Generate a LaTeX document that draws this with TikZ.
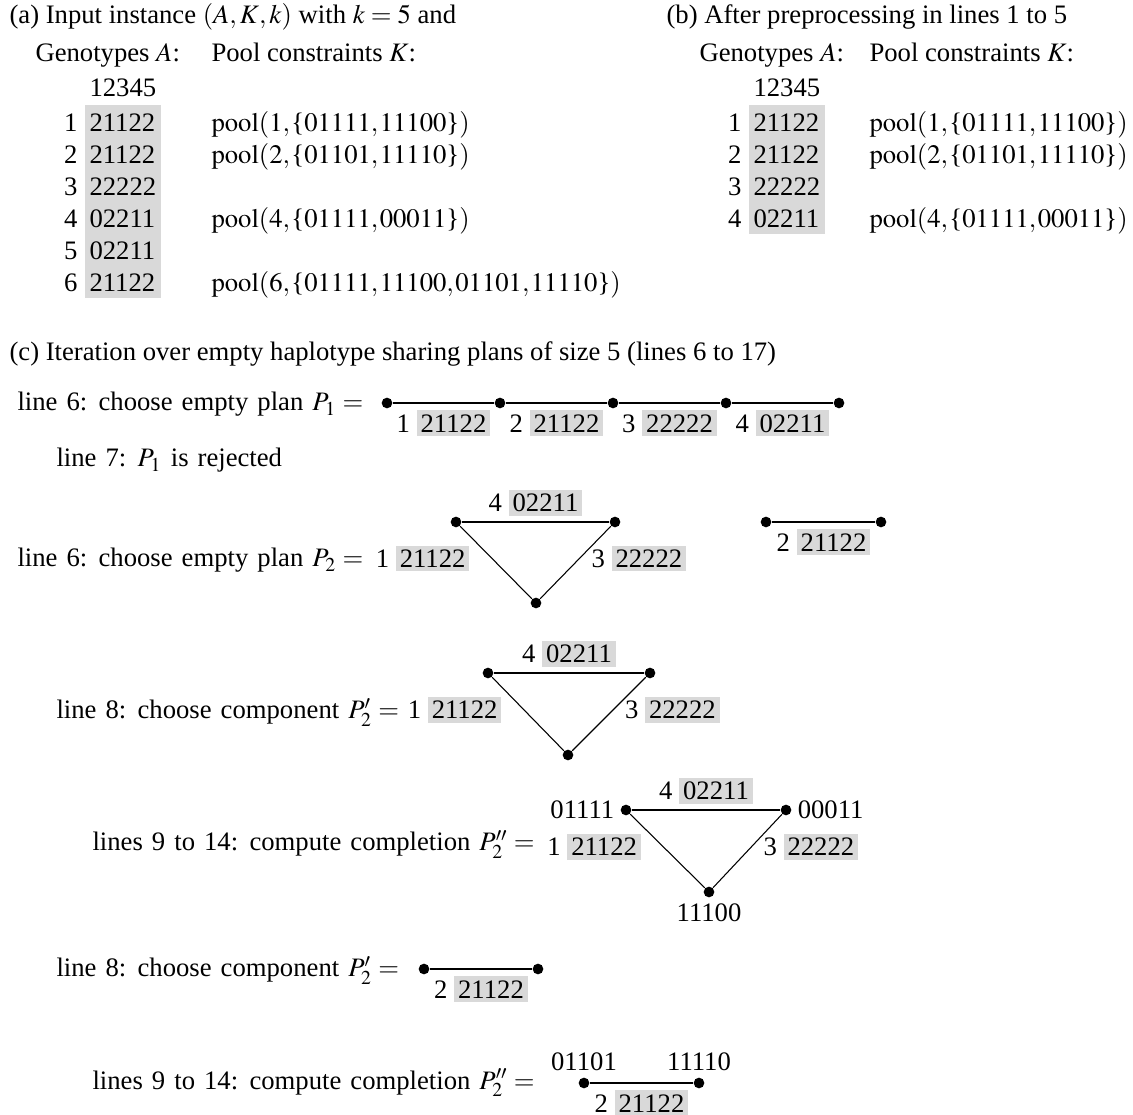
\documentclass[tikz,border=0pt]{standalone}
\usepackage{mathptmx}
\usepackage{fontspec}
\setmainfont{Liberation Serif}
\usepackage{tikz}

\definecolor{gtgray}{gray}{0.85}
\newcommand{\gbox}[1]{{\setlength{\fboxsep}{1.5pt}\colorbox{gtgray}{#1}}}
\newcommand{\geno}[2]{#1 \gbox{#2}}
\newcommand{\pool}[2]{$\mathrm{pool}(#1{,}\mkern1mu\mbox{\{}#2\mbox{\}})$}

\begin{document}
\begin{tikzpicture}[x=0.375pt,y=-0.375pt,label distance=-1.3pt,
  dot/.style={circle,fill,inner sep=0pt,minimum size=4pt},
  flat/.style={line width=0.6pt},
  txt/.style={anchor=base west,inner sep=0pt},
  stxt/.style={txt,font={\spaceskip=3.4pt plus 1pt\relax}},
  gbelow/.style={below=2.5pt,inner sep=0pt},
  gabove/.style={above=1.9pt,inner sep=0pt},
  gleft/.style={anchor=east,inner sep=0pt,xshift=-9.75pt,yshift=1.5pt},
  gright/.style={anchor=west,inner sep=0pt,xshift=5.8pt,yshift=1.5pt}]
  \useasboundingbox (0,0) rectangle (1133,1115);

  \node[txt] (ha) at (9,24) {(a) Input instance $(A,K,k)$ with $k=5$ and};
  \node[txt] (hb) at (666,24) {(b) After preprocessing in lines 1 to 5};
  \node[txt] (gta) at (35,62) {Genotypes $A$:};
  \node[txt] (pka) at (211,62) {Pool constraints $K$:};
  \node[txt] (gtb) at (699,62) {Genotypes $A$:};
  \node[txt] (pkb) at (869,62) {Pool constraints $K$:};

  \fill[gtgray] (85,105) rectangle (161,298);
  \fill[gtgray] (749,105) rectangle (825,234);
  \node[txt] (ca) at (89,97) {12345};
  \node[txt] (cb) at (753,97) {12345};
  \foreach \i/\g in {1/21122,2/21122,3/22222,4/02211,5/02211,6/21122}{
    \node[anchor=base east,inner sep=0pt] (na\i) at (78,{100+32*\i}) {\i};
    \node[txt] (ga\i) at (89,{100+32*\i}) {\g};
  }
  \foreach \i/\g in {1/21122,2/21122,3/22222,4/02211}{
    \node[anchor=base east,inner sep=0pt] (nb\i) at (742,{100+32*\i}) {\i};
    \node[txt] (gb\i) at (753,{100+32*\i}) {\g};
  }
  \node[txt] (ka1) at (211,132) {\pool{1}{01111{,}\mkern1mu 11100}};
  \node[txt] (ka2) at (211,164) {\pool{2}{01101{,}\mkern1mu 11110}};
  \node[txt] (ka4) at (211,228) {\pool{4}{01111{,}\mkern1mu 00011}};
  \node[txt] (ka6) at (211,292) {\pool{6}{01111{,}\mkern1mu 11100{,}\mkern1mu 01101{,}\mkern1mu 11110}};
  \node[txt] (kb1) at (869,132) {\pool{1}{01111{,}\mkern1mu 11100}};
  \node[txt] (kb2) at (869,164) {\pool{2}{01101{,}\mkern1mu 11110}};
  \node[txt] (kb4) at (869,228) {\pool{4}{01111{,}\mkern1mu 00011}};

  \node[txt] (hc) at (9,361) {(c) Iteration over empty haplotype sharing plans of size 5 (lines 6 to 17)};

  \node[stxt] (s6a) at (17,411) {line 6: choose empty plan $P_1 =$};
  \foreach \j/\x in {a/387,b/500,c/613,d/726,e/839}
    \node[dot] (p1\j) at (\x,403) {};
  \draw[flat] (p1a) -- node[gbelow] {\geno{1}{21122}} (p1b)
    -- node[gbelow] {\geno{2}{21122}} (p1c)
    -- node[gbelow] {\geno{3}{22222}} (p1d)
    -- node[gbelow] {\geno{4}{02211}} (p1e);

  \node[stxt] (s7) at (56,467) {line 7: $P_1$ is rejected};

  \node[stxt] (s6b) at (17,567) {line 6: choose empty plan $P_2 =$};
  \node[dot] (p2a) at (456,522) {};
  \node[dot] (p2b) at (615,522) {};
  \node[dot] (p2c) at (536,603) {};
  \node[dot] (p2d) at (766,522) {};
  \node[dot] (p2e) at (881,522) {};
  \draw[flat] (p2a) -- node[gabove] {\geno{4}{02211}} (p2b);
  \draw (p2b) -- node[gright] {\geno{3}{22222}} (p2c)
    -- node[gleft] {\geno{1}{21122}} (p2a);
  \draw[flat] (p2d) -- node[gbelow] {\geno{2}{21122}} (p2e);

  \node[stxt] (s8a) at (56,719) {line 8: choose component $P'_2 =$};
  \node[dot] (q1) at (488,673) {};
  \node[dot] (q2) at (650,673) {};
  \node[dot] (q3) at (568,755) {};
  \draw[flat] (q1) -- node[gabove] {\geno{4}{02211}} (q2);
  \draw (q2) -- node[gright] {\geno{3}{22222}} (q3)
    -- node[gleft] {\geno{1}{21122}} (q1);

  \node[stxt] (s9a) at (92,851) {lines 9 to 14: compute completion $P''_2 =$};
  \node[dot,label={[name=h1]left:01111}] (r1) at (626,810) {};
  \node[dot,label={[name=h2]right:00011}] (r2) at (786,810) {};
  \node[dot,label={[name=h3]below:11100}] (r3) at (709,892) {};
  \draw[flat] (r1) -- node[gabove] {\geno{4}{02211}} (r2);
  \draw (r2) -- node[gright] {\geno{3}{22222}} (r3)
    -- node[gleft] {\geno{1}{21122}} (r1);

  \node[stxt] (s8b) at (56,977) {line 8: choose component $P'_2 =$};
  \node[dot] (s1) at (424,969) {};
  \node[dot] (s2) at (538,969) {};
  \draw[flat] (s1) -- node[gbelow] {\geno{2}{21122}} (s2);

  \node[stxt] (s9b) at (92,1089) {lines 9 to 14: compute completion $P''_2 =$};
  \node[dot,label={[name=h4]above:01101}] (u1) at (584,1083) {};
  \node[dot,label={[name=h5]above:11110}] (u2) at (699,1083) {};
  \draw[flat] (u1) -- node[gbelow] {\geno{2}{21122}} (u2);
\end{tikzpicture}
\end{document}
